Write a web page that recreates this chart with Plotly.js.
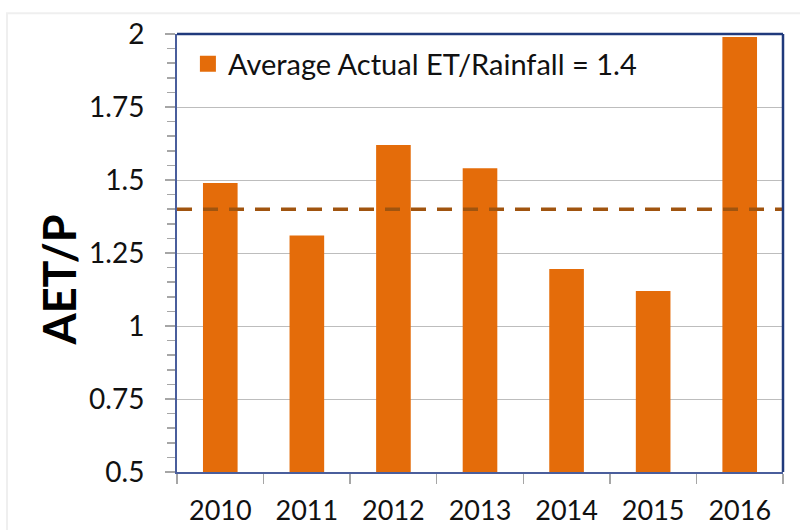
<!DOCTYPE html>
<html>
<head>
<meta charset="utf-8">
<script src="https://cdn.plot.ly/plotly-3.0.1.min.js"></script>
<style>
html,body{margin:0;padding:0;background:#fff;}
#chart{width:800px;height:530px;}
</style>
</head>
<body>
<div id="chart"></div>
<script>
const years = ['2010','2011','2012','2013','2014','2015','2016'];
const aetP = [1.49, 1.31, 1.62, 1.54, 1.195, 1.12, 1.99];
const averageRatio = 1.4;
const legendLabel = 'Average Actual ET/Rainfall = 1.4';
const yTickVals = [0.5, 0.75, 1, 1.25, 1.5, 1.75, 2];
const yTickText = ['0.5', '0.75', '1', '1.25', '1.5', '1.75', '2'];

const orange = '#E46C0A';
const fontFam = 'Lato, "Open Sans", sans-serif';

const traces = [
  {
    type: 'bar',
    x: years,
    y: aetP,
    marker: {color: orange, line: {width: 0}},
    showlegend: false,
    hoverinfo: 'x+y'
  },
  {
    type: 'scatter',
    mode: 'markers',
    x: [null],
    y: [null],
    name: legendLabel,
    marker: {symbol: 'square', size: 18, color: orange},
    showlegend: true
  }
];

const layout = {
  width: 800,
  height: 530,
  margin: {l: 177, r: 17, t: 34, b: 58},
  paper_bgcolor: '#ffffff',
  plot_bgcolor: '#ffffff',
  font: {family: fontFam, color: '#111111', size: 27},
  bargap: 0.6,
  showlegend: true,
  legend: {
    x: 0.018, y: 0.99, xanchor: 'left', yanchor: 'top',
    bgcolor: 'rgba(0,0,0,0)',
    font: {family: fontFam, size: 29, color: '#111111'}
  },
  xaxis: {
    type: 'category',
    tickson: 'boundaries',
    ticks: 'outside',
    ticklen: 10,
    tickwidth: 1.5,
    tickcolor: '#a6a6a6',
    showline: true,
    linecolor: '#4a5e9c',
    linewidth: 2,
    showgrid: false,
    zeroline: false,
    ticklabelstandoff: 14,
    tickfont: {family: fontFam, size: 27, color: '#111111'},
    fixedrange: true
  },
  yaxis: {
    range: [0.5, 2],
    tickvals: yTickVals,
    ticktext: yTickText,
    ticks: 'outside',
    ticklen: 10,
    tickwidth: 1.5,
    tickcolor: '#a6a6a6',
    minor: {dtick: 0.05, ticks: 'outside', ticklen: 8, tickwidth: 1.5, tickcolor: '#a6a6a6', showgrid: false},
    showline: true,
    linecolor: '#4a5e9c',
    linewidth: 2,
    showgrid: true,
    gridcolor: '#bdbdbd',
    gridwidth: 1,
    zeroline: false,
    ticklabelstandoff: 15,
    tickfont: {family: fontFam, size: 28, color: '#111111'},
    fixedrange: true
  },
  shapes: [
    {type: 'line', xref: 'paper', yref: 'y', x0: 0, x1: 1, y0: averageRatio, y1: averageRatio,
     line: {color: '#A0540F', width: 3.5, dash: '15px,11px'}, layer: 'above'},
    {type: 'line', xref: 'paper', yref: 'paper', x0: 0, x1: 1, y0: 1, y1: 1,
     line: {color: '#203a7c', width: 2.5}, layer: 'above'},
    {type: 'line', xref: 'paper', yref: 'paper', x0: 1, x1: 1, y0: 0, y1: 1,
     line: {color: '#203a7c', width: 2.5}, layer: 'above'},
    {type: 'rect', xref: 'paper', yref: 'paper', x0: -0.2805, x1: 1.1, y0: -0.3, y1: 1.0475,
     line: {color: '#efefef', width: 2}, fillcolor: 'rgba(0,0,0,0)', layer: 'below'}
  ],
  annotations: [
    {text: '<b>AET/P</b>', xref: 'paper', yref: 'paper', x: -0.194, y: 0.438,
     xanchor: 'center', yanchor: 'middle', textangle: -90, showarrow: false,
     font: {family: fontFam, size: 45, color: '#000000'}}
  ]
};

Plotly.newPlot('chart', traces, layout, {displayModeBar: false, staticPlot: true});
</script>
</body>
</html>
